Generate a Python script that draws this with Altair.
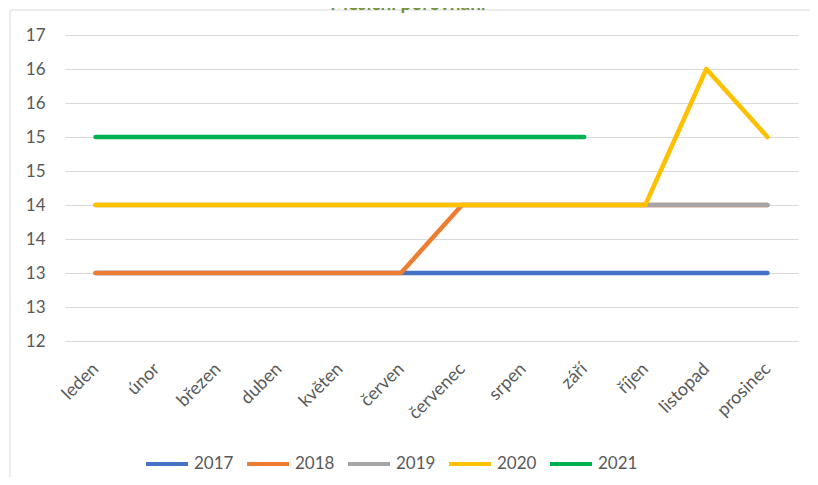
import altair as alt
import pandas as pd

months = ["leden", "únor", "březen", "duben", "květen", "červen",
          "červenec", "srpen", "září", "říjen", "listopad", "prosinec"]
years = ["2017", "2018", "2019", "2020", "2021"]
v2017 = [13, 13, 13, 13, 13, 13, 13, 13, 13, 13, 13, 13]
v2018 = [13, 13, 13, 13, 13, 13, 14, 14, 14, 14, 14, 14]
v2019 = [14, 14, 14, 14, 14, 14, 14, 14, 14, 14, 14, 14]
v2020 = [14, 14, 14, 14, 14, 14, 14, 14, 14, 14, 16, 15]
v2021 = [15, 15, 15, 15, 15, 15, 15, 15, 15]
colors = ["#4472C4", "#ED7D31", "#A5A5A5", "#FFC000", "#00B050"]
y_ticks = [12, 12.5, 13, 13.5, 14, 14.5, 15, 15.5, 16, 16.5]
title_text = "Měsíční porovnání"

series = [v2017, v2018, v2019, v2020, v2021]
rows = []
for yr, vals in zip(years, series):
    for m, v in zip(months, vals):
        rows.append({"year": yr, "month": m, "value": v})
df = pd.DataFrame(rows)

FONT = "Lato"
TXT = "#595959"

lines = alt.Chart(df).mark_line(
    strokeWidth=4.5, strokeCap="round", strokeJoin="round"
).encode(
    x=alt.X("month:N", sort=months,
            scale=alt.Scale(type="point", padding=0.5),
            axis=alt.Axis(title=None, labelAngle=-45, labelAlign="right",
                          labelBaseline="middle", labelPadding=25,
                          domain=False, ticks=False, tickSize=0, grid=False,
                          labelFontSize=18, labelColor=TXT, labelFont=FONT)),
    y=alt.Y("value:Q",
            scale=alt.Scale(domain=[12, 16.5], nice=False, zero=False),
            axis=alt.Axis(title=None, values=y_ticks,
                          labelExpr="round(datum.value)",
                          grid=True, gridColor="#D9D9D9", gridWidth=1,
                          domain=False, ticks=False, tickSize=0,
                          labelPadding=20, labelFontSize=17,
                          labelColor=TXT, labelFont=FONT)),
    color=alt.Color("year:N", scale=alt.Scale(domain=years, range=colors),
                    legend=alt.Legend(title=None, orient="none",
                                      direction="horizontal",
                                      legendX=79, legendY=406,
                                      symbolType="stroke", symbolSize=1764,
                                      symbolStrokeWidth=4,
                                      labelFontSize=17, labelColor=TXT,
                                      labelFont=FONT, labelOffset=4,
                                      columnPadding=5, padding=0)),
)

one = pd.DataFrame({"a": [0]})
top_border = alt.Chart(one).mark_rule(color="#D9D9D9", strokeWidth=1).encode(
    x=alt.value(-55), x2=alt.value(753), y=alt.value(-25))
left_border = alt.Chart(one).mark_rule(color="#D9D9D9", strokeWidth=1).encode(
    x=alt.value(-55), y=alt.value(-25), y2=alt.value(460))
title = alt.Chart(one).mark_text(
    text=title_text, fontSize=19, fontWeight="bold", color="#76923C",
    font=FONT, align="center", baseline="alphabetic"
).encode(x=alt.value(343), y=alt.value(-25.5))

chart = alt.layer(top_border, left_border, title, lines).properties(
    width=733, height=306,
    padding={"left": 57, "top": 27, "right": 12, "bottom": 136},
    autosize=alt.AutoSizeParams(type="none"),
    background="white",
).configure_view(stroke=None)

chart.save("out.html", embed_options={"renderer": "svg", "actions": False})
